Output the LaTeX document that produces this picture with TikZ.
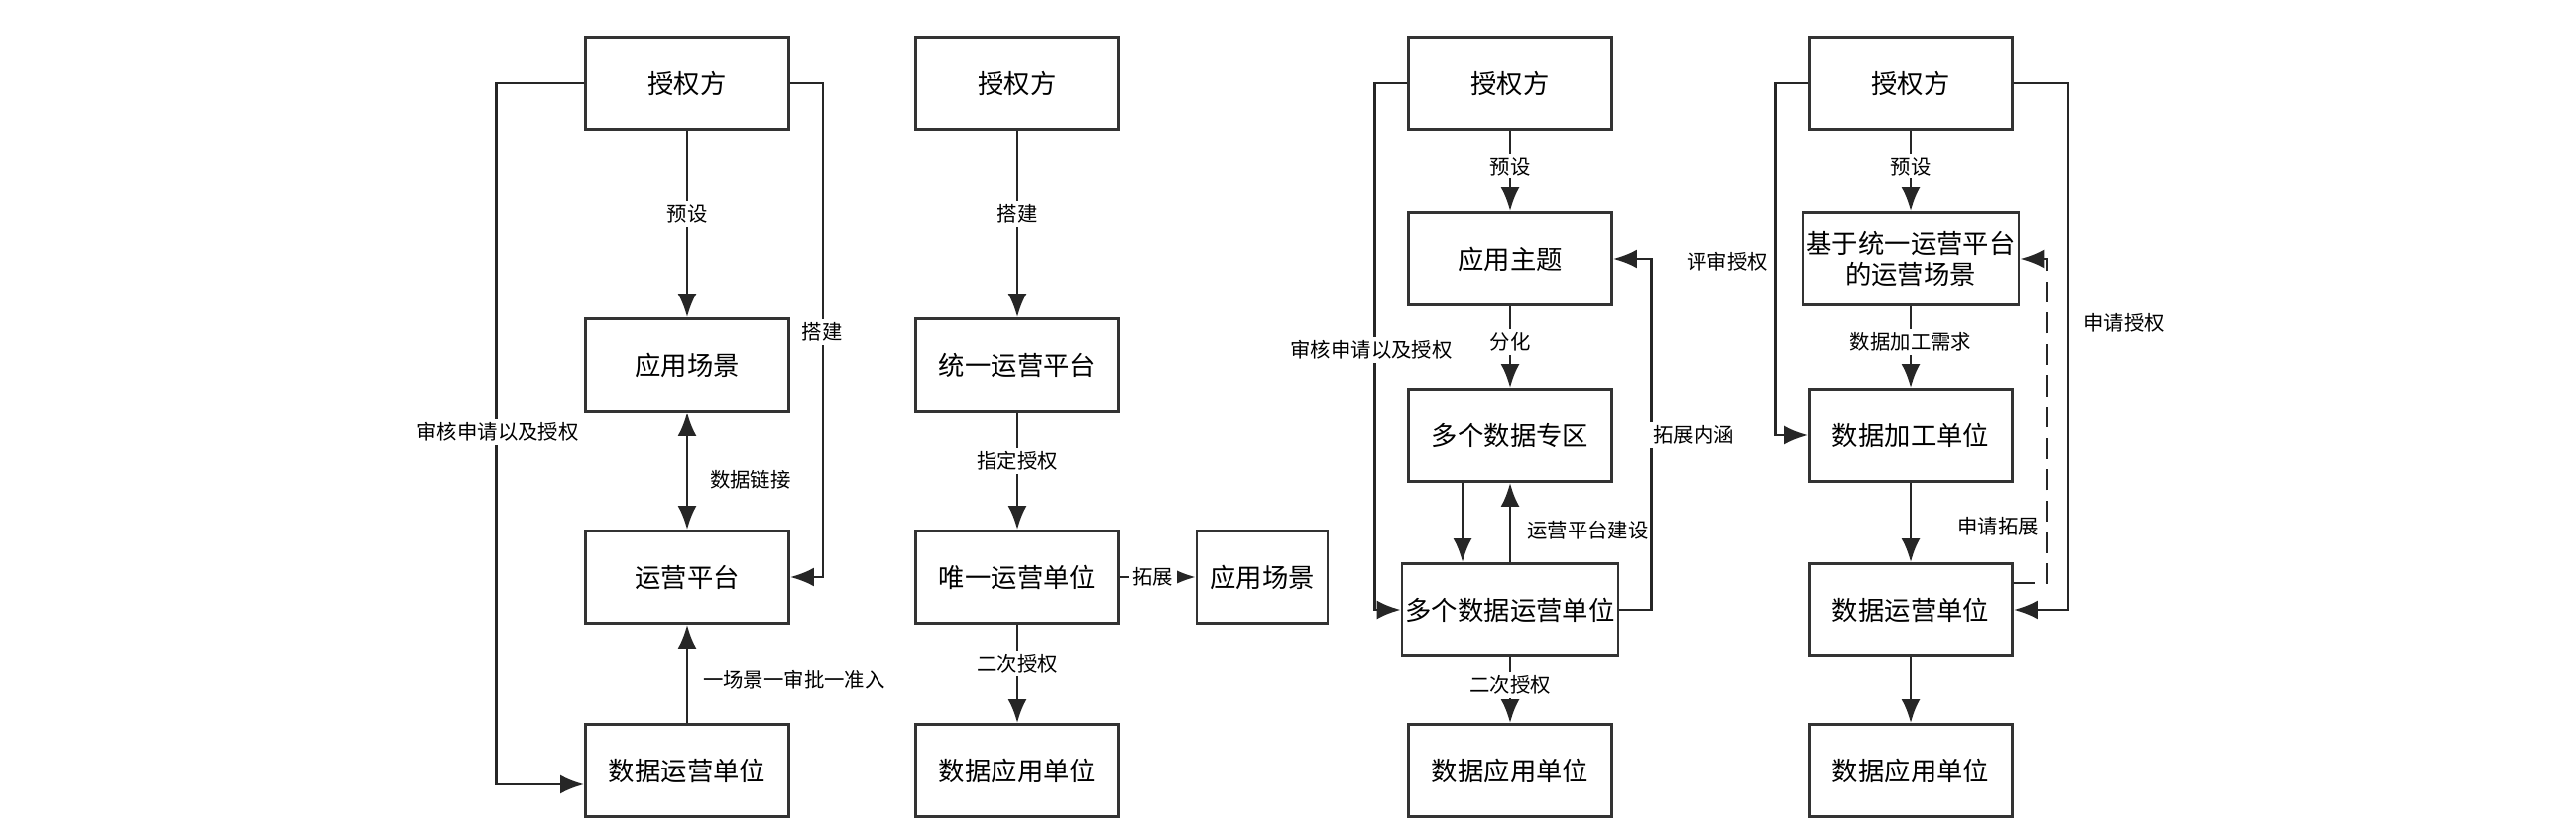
\documentclass[tikz,border=0pt]{standalone}
\usepackage{fontspec}
\setmainfont{Noto Sans CJK SC}
\usetikzlibrary{arrows.meta,positioning}
\tikzset{>={Latex[length=2.4mm,width=1.9mm]}}
\tikzset{
  box/.style={draw=black!80, thick, minimum width=2.05cm, minimum height=0.93cm, inner sep=1pt, align=center, font=\fontsize{7.5}{9}\selectfont},
  lab/.style={fill=white, inner sep=1pt, font=\fontsize{5.8}{7}\selectfont},
  line/.style={thick, draw=black!85}
}
\begin{document}
\begin{tikzpicture}
\useasboundingbox (0,0) rectangle (25.98,8.34);

% first scheme
\node[box] (a1) at (6.93,7.50) {授权方};
\node[box] (b1) at (6.93,4.66) {应用场景};
\node[box] (c1) at (6.93,2.52) {运营平台};
\node[box] (d1) at (6.93,0.57) {数据运营单位};
\draw[line,->] (a1) -- (b1) node[lab,midway,yshift=1mm] {预设};
\draw[line,<->] (b1) -- (c1);
\node[lab,anchor=west] (l1) at (7.12,3.50) {数据链接};
\draw[line,->] (d1) -- (c1);
\node[lab,anchor=west] (l2) at (7.05,1.48) {一场景一审批一准入};
\draw[line,->] (a1.west) -- ++(-0.89,0) |- ([yshift=-1.4mm]d1.west);
\node[lab] (l3) at (5.02,3.98) {审核申请以及授权};
\draw[line,->] (a1.east) -- ++(0.33,0) |- (c1.east);
\node[lab] (l4) at (8.29,4.99) {搭建};

% second scheme
\node[box] (a2) at (10.26,7.50) {授权方};
\node[box] (b2) at (10.26,4.66) {统一运营平台};
\node[box] (c2) at (10.26,2.52) {唯一运营单位};
\node[box] (d2) at (10.26,0.57) {数据应用单位};
\node[box, minimum width=1.32cm] (e2) at (12.73,2.52) {应用场景};
\draw[line,->] (a2) -- (b2) node[lab,midway,yshift=1mm] {搭建};
\draw[line,->] (b2) -- (c2) node[lab,midway,yshift=1mm] {指定授权};
\draw[line,->] (c2) -- (d2) node[lab,midway,yshift=1mm] {二次授权};
\draw[line,->] (c2) -- (e2) node[lab,midway,xshift=-0.5mm] {拓展};

% third scheme
\node[box] (a3) at (15.23,7.50) {授权方};
\node[box] (b3) at (15.23,5.73) {应用主题};
\node[box] (c3) at (15.23,3.95) {多个数据专区};
\node[box] (d3) at (15.23,2.19) {多个数据运营单位};
\node[box] (e3) at (15.23,0.57) {数据应用单位};
\draw[line,->] (a3) -- (b3) node[lab,midway,yshift=0.5mm] {预设};
\draw[line,->] (b3) -- (c3) node[lab,midway,yshift=0.5mm] {分化};
\draw[line,->] ([xshift=-4.8mm]c3.south) -- ([xshift=-4.8mm]d3.north);
\draw[line,->] (d3) -- (c3);
\node[lab,anchor=west] (l5) at (15.36,2.99) {运营平台建设};
\draw[line,->] (d3) -- (e3) node[lab,midway,yshift=0.5mm] {二次授权};
\draw[line,->] (a3.west) -- ++(-0.33,0) |- (d3.west);
\node[lab] (l6) at (13.83,4.81) {审核申请以及授权};
\draw[line,->] (d3.east) -- ++(0.32,0) |- (b3.east);
\node[lab] (l7) at (17.08,3.95) {拓展内涵};

% fourth scheme
\node[box] (a4) at (19.27,7.50) {授权方};
\node[box] (b4) at (19.27,5.73) {基于统一运营平台\\的运营场景};
\node[box] (c4) at (19.27,3.95) {数据加工单位};
\node[box] (d4) at (19.27,2.19) {数据运营单位};
\node[box] (e4) at (19.27,0.57) {数据应用单位};
\draw[line,->] (a4) -- (b4) node[lab,midway,yshift=0.5mm] {预设};
\draw[line,->] (b4) -- (c4) node[lab,midway,yshift=0.5mm] {数据加工需求};
\draw[line,->] (c4) -- (d4);
\draw[line,->] (d4) -- (e4);
\draw[line,->] (a4.west) -- ++(-0.33,0) |- (c4.west);
\node[lab] (l8) at (17.42,5.70) {评审授权};
\draw[line,->] (a4.east) -- ++(0.55,0) |- (d4.east);
\node[lab] (l9) at (21.42,5.08) {申请授权};
\draw[line,->,dashed,dash pattern=on 6pt off 3pt] ([yshift=2.7mm]d4.east) -- ++(0.33,0) |- (b4.east);
\node[lab] (l10) at (20.15,3.03) {申请拓展};
\end{tikzpicture}
\end{document}
